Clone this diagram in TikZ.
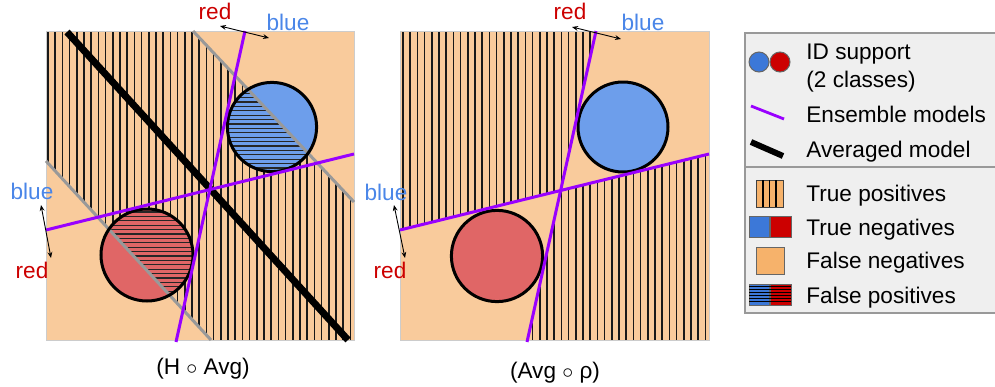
\documentclass[tikz,border=0pt]{standalone}
\usepackage{fontspec}
\setmainfont{Liberation Sans}
\usetikzlibrary{arrows.meta,positioning,calc}
\definecolor{peach}{HTML}{F9CB9C}
\definecolor{lpeach}{HTML}{F6B26B}
\definecolor{cblue}{HTML}{6D9EEB}
\definecolor{cred}{HTML}{E06666}
\definecolor{lblue}{HTML}{3C78D8}
\definecolor{lred}{HTML}{CC0000}
\definecolor{tblue}{HTML}{4A86E8}
\definecolor{ensviolet}{HTML}{9900FF}
\definecolor{bndgray}{HTML}{999999}
\definecolor{legbg}{HTML}{EFEFEF}

\begin{document}
\begin{tikzpicture}[x=0.5pt,y=-0.5pt,
  font=\fontsize{11.3}{13.5}\selectfont,
  hatchv/.style={black!90,line width=0.75pt},
  hatchh/.style={black!85,line width=0.65pt},
  ensemble/.style={ensviolet,line width=1.5pt},
  averaged/.style={black,line width=3.5pt},
  bound/.style={bndgray,line width=1.5pt},
  rim/.style={black,line width=1.5pt},
  dir/.style={{Stealth[length=3pt,width=2.4pt]}-{Stealth[length=3pt,width=2.4pt]},line width=0.45pt},
  redlbl/.style={lred,anchor=base},
  bluelbl/.style={tblue,anchor=base},
  legtxt/.style={anchor=base west,inner sep=0pt},
  icon/.style={draw=black!60,line width=0.5pt}]
 \useasboundingbox (0,0) rectangle (995,386);

 % ---- left panel: H o Avg
 \fill[peach] (46,31) rectangle (354,340);
 \begin{scope}
  \clip (46,31)--(193,31)--(354,202)--(354,340)--(211,340)--(46,161)--cycle;
  \foreach \k in {0,...,42} {\draw[hatchv] ({48+\k*7.2},31)--++(0,309);}
 \end{scope}
 \fill[cblue] (272,127) circle[radius=22.3pt];
 \fill[cred] (147,255) circle[radius=23pt];
 \begin{scope}
  \clip (46,31)--(193,31)--(354,202)--(354,340)--(211,340)--(46,161)--cycle;
  \clip (272,127) circle[radius=22.3pt] (147,255) circle[radius=23pt];
  \foreach \k in {0,...,60} {\draw[hatchh] (90,{80+\k*4.4})--++(250,0);}
 \end{scope}
 \draw[black!20,line width=0.5pt] (46,31) rectangle (354,340);
 \draw[bound] (193,31)--(354,202);
 \draw[bound] (46,161)--(211,340);
 \draw[rim] (272,127) circle[radius=22.3pt];
 \draw[rim] (147,255) circle[radius=23pt];
 \draw[averaged] (67,32)--(348,340);
 \draw[ensemble] (245,31)--(176,342);
 \draw[ensemble] (46,230)--(354,154);

 \node[redlbl] (lred1) at (215,19) {red};
 \node[bluelbl] (lblue1) at (288,30) {blue};
 \coordinate (la1) at (220,26);
 \coordinate (lb1) at (269,38);
 \draw[dir] (la1)--(lb1);
 \node[bluelbl] (lblue2) at (32,199) {blue};
 \node[redlbl] (lred2) at (32,278) {red};
 \coordinate (la2) at (41,205);
 \coordinate (lb2) at (51,258);
 \draw[dir] (la2)--(lb2);
 \node[anchor=base] (capl) at (203,374) {(H $\circ$ Avg)};

 % ---- right panel: Avg o rho
 \fill[peach] (400,31) rectangle (709,340);
 \begin{scope}
  \clip (400,31)--(596,31)--(560.5,190.5)--(400,230)--cycle
        (560.5,190.5)--(709,154)--(709,340)--(527.4,340)--cycle;
  \foreach \k in {0,...,42} {\draw[hatchv] ({403+\k*7.2},31)--++(0,309);}
 \end{scope}
 \fill[cblue] (623,127) circle[radius=22.5pt];
 \fill[cred] (497,256) circle[radius=22.8pt];
 \draw[black!20,line width=0.5pt] (400,31) rectangle (709,340);
 \draw[rim] (623,127) circle[radius=22.5pt];
 \draw[rim] (497,256) circle[radius=22.8pt];
 \draw[ensemble] (596,31)--(527,342);
 \draw[ensemble] (400,230)--(709,154);

 \node[redlbl] (rred1) at (570,19) {red};
 \node[bluelbl] (rblue1) at (643,30) {blue};
 \coordinate (ra1) at (572,27);
 \coordinate (rb1) at (621,39);
 \draw[dir] (ra1)--(rb1);
 \node[bluelbl] (rblue2) at (386,200) {blue};
 \node[redlbl] (rred2) at (390,278) {red};
 \coordinate (ra2) at (394,205);
 \coordinate (rb2) at (405,258);
 \draw[dir] (ra2)--(rb2);
 \node[anchor=base] (capr) at (555,378) {(Avg $\circ$ ρ)};

 % ---- legend
 \fill[legbg] (745,33) rectangle (995,313);
 \draw[black!40,line width=0.6pt] (995,33)--(745,33)--(745,313)--(995,313);
 \draw[black!40,line width=0.6pt] (745,167)--(995,167);
 \filldraw[icon,fill=lblue] (759,62) circle[radius=5pt];
 \filldraw[icon,fill=lred] (780,62) circle[radius=5pt];
 \draw[ensviolet,line width=1.4pt] (751,106)--(784,119);
 \draw[black,line width=3pt] (751,142)--(783,156);
 \filldraw[icon,fill=lpeach,draw=black!75] (756,180) rectangle (783,207);
 \foreach \vx in {763,769.5,776} {\draw[black,line width=0.7pt] (\vx,180)--(\vx,207);}
 \filldraw[icon,fill=lblue] (749,216) rectangle (769,237);
 \filldraw[icon,fill=lred] (770,216) rectangle (791,237);
 \filldraw[icon,fill=lpeach] (756,247) rectangle (784,274);
 \filldraw[icon,fill=lblue] (749,284) rectangle (769,305);
 \filldraw[icon,fill=lred] (770,284) rectangle (791,305);
 \foreach \hy in {286.5,289.5,...,304} {\draw[black,line width=0.6pt] (749,\hy)--(791,\hy);}

 \node[legtxt] (lgid) at (806,59) {ID support};
 \node[legtxt] (lgcls) at (806,87) {(2 classes)};
 \node[legtxt] (lgens) at (806,122) {Ensemble models};
 \node[legtxt] (lgavg) at (806,157) {Averaged model};
 \node[legtxt] (lgtp) at (806,201) {True positives};
 \node[legtxt] (lgtn) at (806,235) {True negatives};
 \node[legtxt] (lgfn) at (806,268) {False negatives};
 \node[legtxt] (lgfp) at (806,303) {False positives};
\end{tikzpicture}
\end{document}
